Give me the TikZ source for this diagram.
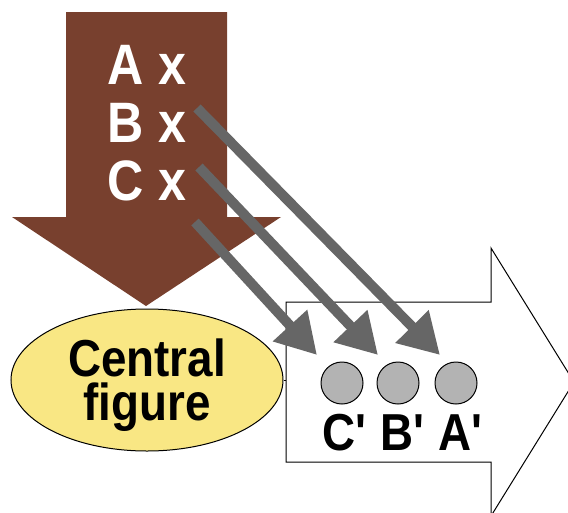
\documentclass[tikz,border=0pt]{standalone}
\usepackage{fontspec}
\newfontfamily\diagfont[FakeStretch=0.88]{Liberation Sans}
\usetikzlibrary{shapes.geometric,arrows.meta}

\definecolor{arrowbrown}{RGB}{120,64,46}
\definecolor{figyellow}{RGB}{249,231,132}
\definecolor{pathgray}{RGB}{102,102,102}
\definecolor{dotgray}{RGB}{179,179,179}

\tikzset{
  pairtext/.style={font=\diagfont\bfseries\fontsize{57}{58}\selectfont, text=white, align=left, inner sep=0pt},
  figtext/.style={font=\diagfont\bfseries\fontsize{52}{44}\selectfont, align=center},
  dot/.style={circle, draw, line width=1pt, fill=dotgray, minimum size=42pt, inner sep=0pt},
  grayarrow/.style={draw=pathgray, line width=10pt, -{Triangle[length=40pt, width=44pt]}}
}

\begin{document}
\begin{tikzpicture}[x=1pt, y=-1pt]
  \useasboundingbox (0,0) rectangle (568,512);

  % downward arrow
  \fill[arrowbrown] (66,12) -- (227,12) -- (227,217) -- (281,217)
    -- (146,306) -- (12,217) -- (66,217) -- cycle;
  \node[pairtext] (pairs) at (147,123) {A x\\B x\\C x};

  % arrow to the right
  \draw[fill=white, line width=1pt] (286,302) -- (491,302) -- (491,248)
    -- (574,382) -- (491,516) -- (491,462) -- (286,462) -- cycle;

  \node[ellipse, draw, line width=1pt, fill=figyellow, minimum width=272pt,
    minimum height=142pt, inner sep=0pt, figtext, text depth=0pt] (central) at (147,380) {Central\\figure};
  \coordinate (boxin) at (286,380);
  \draw[line width=1pt] (central.east) -- (boxin);

  \node[dot] (dotC) at (342,383) {};
  \node[dot] (dotB) at (398,383) {};
  \node[dot] (dotA) at (456,383) {};
  \node[figtext, anchor=base] (primes) at (403,450) {C\textquotesingle\ B\textquotesingle\ A\textquotesingle};

  % mapping arrows
  \coordinate (fromA) at (197,108);
  \coordinate (fromB) at (199,167);
  \coordinate (fromC) at (195,222);
  \coordinate (toA) at (440,355);
  \coordinate (toB) at (378,355);
  \coordinate (toC) at (317,355);
  \draw[grayarrow] (fromA) -- (toA);
  \draw[grayarrow] (fromB) -- (toB);
  \draw[grayarrow] (fromC) -- (toC);
\end{tikzpicture}
\end{document}
